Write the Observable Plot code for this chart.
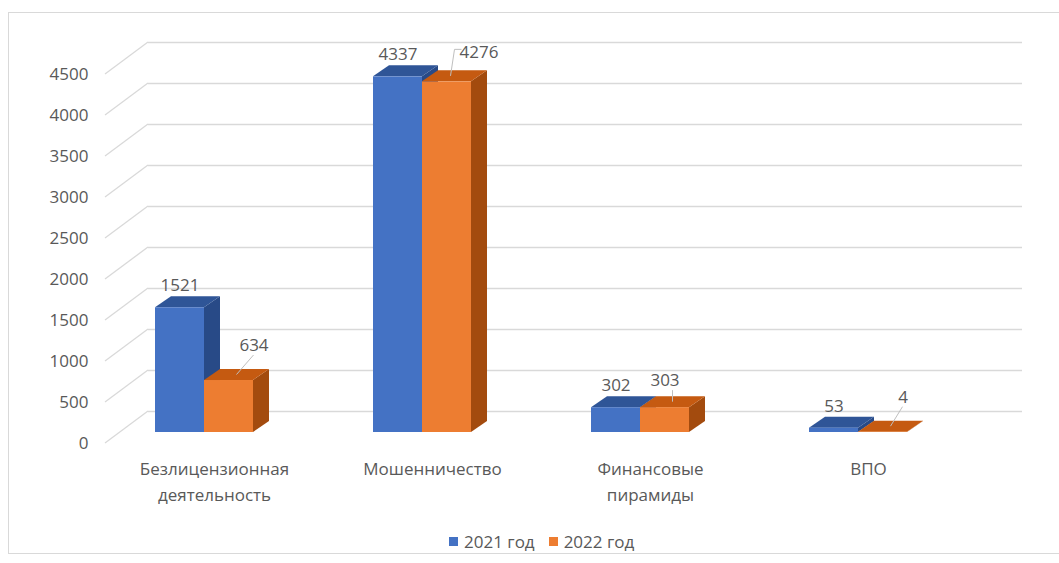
<!DOCTYPE html>
<html>
<head>
<meta charset="utf-8">
<script src="https://cdn.jsdelivr.net/npm/d3@7"></script>
<script src="https://cdn.jsdelivr.net/npm/@observablehq/plot@0.6"></script>
<style>
  html, body { margin: 0; padding: 0; background: #fff; width: 1059px; height: 563px; overflow: hidden; }
  #chart { position: absolute; left: 0; top: 0; }
  #frame { position: absolute; left: 8px; top: 12px; width: 1100px; height: 542px; border: 1px solid #d9d9d9; box-sizing: border-box; pointer-events: none; }
  #legend { position: absolute; left: 449px; top: 530px; display: flex; align-items: center; font: 17px "Open Sans", sans-serif; color: #595959; }
  #legend .sw { width: 9px; height: 9px; display: inline-block; margin-right: 6px; }
  #legend .item { display: flex; align-items: center; margin-right: 14px; }
</style>
</head>
<body>
<div id="chart"></div>
<div id="frame"></div>
<div id="legend"></div>
<script>
// Categories, series and values
const categories = ["Безлицензионная деятельность", "Мошенничество", "Финансовые пирамиды", "ВПО"];
const series = ["2021 год", "2022 год"];
const values2021 = [1521, 4337, 302, 53];
const values2022 = [634, 4276, 303, 4];
const yTicks = [0, 500, 1000, 1500, 2000, 2500, 3000, 3500, 4000, 4500];

// Face colours per series: front, top, side
const palette = {
  "2021 год": {front: "#4472C4", top: "#2F5597", side: "#284A87"},
  "2022 год": {front: "#ED7D31", top: "#C55A11", side: "#A34B0E"}
};

const rows = [
  ...categories.map((category, i) => ({category, year: series[0], value: values2021[i]})),
  ...categories.map((category, i) => ({category, year: series[1], value: values2022[i]}))
];

// Oblique depth of each box and of the back wall (px)
const depth = {dx: 16, dy: -11};
const wall = {dx: 43, dy: -32};
const barHalf = 49;
const textColor = "#595959";
const gridColor = "#d9d9d9";

// Labels moved off the bar, with leader start (relative to label centre)
const callouts = {
  "Безлицензионная деятельность": {dx: 25, dy: -13, lead: [0, 10]},
  "Мошенничество": {dx: 32, dy: -7, lead: [-24, 2]},
  "Финансовые пирамиды": {dx: 0, dy: -5, lead: [8, 10]},
  "ВПО": {dx: 20, dy: -13, lead: [0, 10]}
};

function bandCenter(x, c) {
  return x(c) + (x.bandwidth ? x.bandwidth() : 0) / 2;
}

// Floor-side grid segments, 3D boxes and leader lines
function boxes(index, scales, values, dimensions) {
  const {x, y} = scales;
  const g = d3.create("svg:g");
  const left = dimensions.marginLeft;
  for (const t of yTicks) {
    g.append("line")
      .attr("x1", left - wall.dx).attr("y1", y(t) + 11)
      .attr("x2", left).attr("y2", y(t) + 11 + wall.dy)
      .attr("stroke", gridColor).attr("stroke-width", 1.3);
  }
  for (const c of categories) {
    const cx = bandCenter(x, c);
    series.forEach((s, k) => {
      const d = rows.find(r => r.category === c && r.year === s);
      const x0 = cx - barHalf + k * barHalf, x1 = x0 + barHalf;
      const yv = y(d.value), y0 = y(0);
      const col = palette[s];
      const pts = a => a.map(p => p.join(",")).join(" ");
      g.append("polygon").attr("fill", col.side)
        .attr("points", pts([[x1, yv], [x1 + depth.dx, yv + depth.dy], [x1 + depth.dx, y0 + depth.dy], [x1, y0]]));
      g.append("polygon").attr("fill", col.top)
        .attr("points", pts([[x0, yv], [x1, yv], [x1 + depth.dx, yv + depth.dy], [x0 + depth.dx, yv + depth.dy]]));
      g.append("rect").attr("fill", col.front)
        .attr("x", x0).attr("y", yv).attr("width", barHalf).attr("height", Math.max(0, y0 - yv));
    });
  }
  // leader lines for the moved 2022 labels
  for (const c of categories) {
    const co = callouts[c];
    const d = rows.find(r => r.category === c && r.year === series[1]);
    const cx = bandCenter(x, c);
    const fx = cx + barHalf / 2 + depth.dx / 2;
    const fy = y(d.value) + depth.dy / 2;
    const lx = cx + barHalf / 2 + co.dx + co.lead[0];
    const ly = y(d.value) - 22 + co.dy + co.lead[1];
    const path = co.lead[0] < 0 ? `M${lx + 7},${ly - 5}H${lx}L${fx - 4},${fy}` : `M${lx},${ly}L${fx},${fy}`;
    g.append("path").attr("d", path).attr("fill", "none").attr("stroke", "#bfbfbf").attr("stroke-width", 1);
  }
  return g.node();
}

const labelFont = {fontSize: 17, fill: textColor};

const chart = Plot.plot({
  width: 1059,
  height: 525,
  marginLeft: 148,
  marginRight: 37,
  marginTop: 20,
  marginBottom: 93,
  style: {background: "transparent", fontFamily: "'Open Sans', sans-serif", overflow: "visible"},
  x: {type: "band", domain: categories, range: [95, 967], padding: 0},
  y: {domain: [0, 4500], range: [432, 63]},
  marks: [
    Plot.gridY(yTicks, {dy: wall.dy + 11, stroke: gridColor, strokeOpacity: 1, strokeWidth: 1.3}),
    Plot.axisY(yTicks, {tickSize: 0, tickPadding: 60, dy: 11, fontSize: 17, fill: textColor, label: null,
      tickFormat: d => String(d)}),
    Plot.axisX({tickSize: 0, tickPadding: 25, dx: 10, fontSize: 17, fill: textColor, lineHeight: 1.48,
      tickFormat: d => d.replace(" ", "\n"), label: null}),
    boxes,
    Plot.text(rows.filter(d => d.year === series[0]), {
      x: "category", y: "value", text: d => String(d.value),
      dx: -barHalf / 2, dy: -22, ...labelFont
    }),
    ...rows.filter(d => d.year === series[1]).map(d =>
      Plot.text([d], {
        x: "category", y: "value", text: r => String(r.value),
        dx: barHalf / 2 + callouts[d.category].dx, dy: -22 + callouts[d.category].dy, ...labelFont
      })
    )
  ]
});
document.getElementById("chart").appendChild(chart);

// Legend below the plot
const legend = d3.select("#legend");
for (const s of series) {
  const item = legend.append("div").attr("class", "item");
  item.append("span").attr("class", "sw").style("background", palette[s].front);
  item.append("span").text(s);
}
</script>
</body>
</html>
